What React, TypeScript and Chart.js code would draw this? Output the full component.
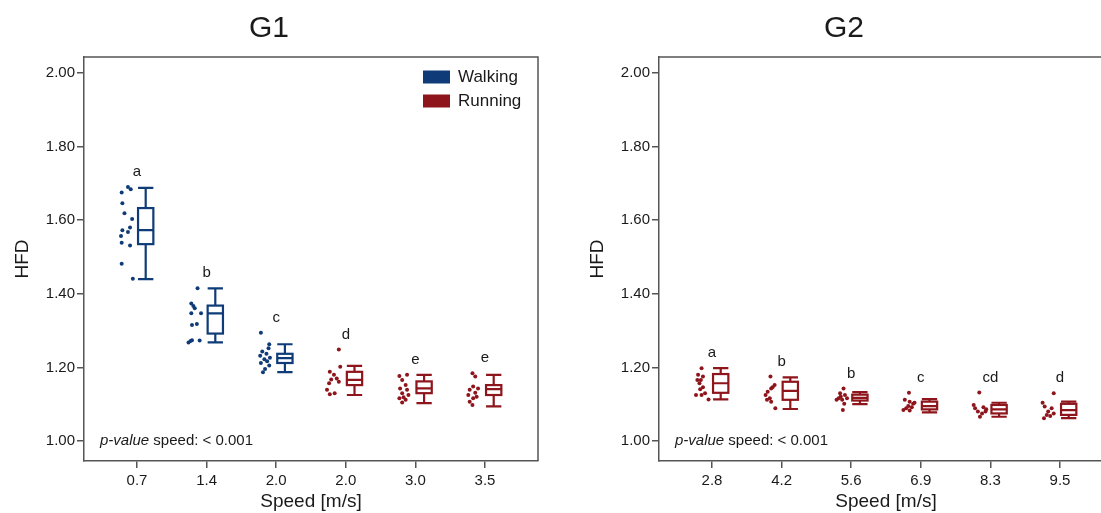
import React, { useEffect, useRef } from "react";
import { Chart, registerables } from "chart.js";
Chart.register(...registerables);

const WALK_COLOR = "#0f3c78";
const RUN_COLOR = "#8e151b";
const FONT = "'Liberation Sans', Arial, Helvetica, sans-serif";

const Y_TICKS = [1.0, 1.2, 1.4, 1.6, 1.8, 2.0];

// ---------- G1 ----------
const G1_SPEEDS = ["0.7", "1.4", "2.0", "2.0", "3.0", "3.5"];
const G1_MODES = ["Walking", "Walking", "Walking", "Running", "Running", "Running"];
const G1_LETTERS = ["a", "b", "c", "d", "e", "e"];
// [lower whisker, Q1, median, Q3, upper whisker]
const G1_BOXES = [
  [1.440, 1.535, 1.573, 1.633, 1.688],
  [1.268, 1.292, 1.347, 1.368, 1.415],
  [1.187, 1.212, 1.225, 1.237, 1.263],
  [1.125, 1.152, 1.166, 1.188, 1.204],
  [1.103, 1.130, 1.143, 1.162, 1.180],
  [1.094, 1.125, 1.141, 1.152, 1.180],
];
const G1_POINTS = [
  [1.675, 1.690, 1.684, 1.646, 1.619, 1.603, 1.573, 1.580, 1.568, 1.557, 1.539, 1.531, 1.482, 1.441],
  [1.415, 1.374, 1.367, 1.361, 1.347, 1.347, 1.315, 1.318, 1.268, 1.274, 1.273, 1.272],
  [1.294, 1.263, 1.252, 1.243, 1.237, 1.232, 1.226, 1.222, 1.217, 1.212, 1.205, 1.196, 1.187],
  [1.249, 1.188, 1.180, 1.202, 1.167, 1.170, 1.161, 1.157, 1.130, 1.127, 1.139],
  [1.177, 1.180, 1.166, 1.152, 1.143, 1.139, 1.130, 1.125, 1.116, 1.112, 1.105, 1.119],
  [1.184, 1.175, 1.148, 1.143, 1.139, 1.131, 1.125, 1.116, 1.107, 1.098, 1.120],
];
// horizontal jitter of each point, in category units (left of the tick)
const G1_JITTER = [
  [-0.22, -0.13, -0.09, -0.21, -0.18, -0.07, -0.21, -0.10, -0.13, -0.23, -0.22, -0.10, -0.22, -0.06],
  [-0.13, -0.22, -0.19, -0.17, -0.22, -0.08, -0.21, -0.14, -0.26, -0.21, -0.10, -0.23],
  [-0.22, -0.10, -0.11, -0.20, -0.14, -0.23, -0.09, -0.17, -0.13, -0.22, -0.10, -0.16, -0.19],
  [-0.10, -0.23, -0.17, -0.08, -0.21, -0.13, -0.10, -0.24, -0.16, -0.23, -0.27],
  [-0.23, -0.12, -0.19, -0.14, -0.22, -0.12, -0.19, -0.10, -0.23, -0.14, -0.19, -0.17],
  [-0.18, -0.14, -0.17, -0.10, -0.22, -0.14, -0.24, -0.17, -0.22, -0.18, -0.12],
];

// ---------- G2 ----------
const G2_SPEEDS = ["2.8", "4.2", "5.6", "6.9", "8.3", "9.5"];
const G2_MODES = ["Running", "Running", "Running", "Running", "Running", "Running"];
const G2_LETTERS = ["a", "b", "b", "c", "cd", "d"];
const G2_BOXES = [
  [1.113, 1.131, 1.157, 1.182, 1.198],
  [1.087, 1.112, 1.136, 1.161, 1.173],
  [1.100, 1.110, 1.117, 1.126, 1.133],
  [1.078, 1.086, 1.095, 1.107, 1.114],
  [1.066, 1.075, 1.086, 1.098, 1.104],
  [1.062, 1.071, 1.084, 1.101, 1.107],
];
const G2_POINTS = [
  [1.198, 1.180, 1.166, 1.157, 1.146, 1.141, 1.125, 1.125, 1.113, 1.130, 1.166, 1.175],
  [1.175, 1.152, 1.143, 1.134, 1.125, 1.116, 1.107, 1.089, 1.146, 1.112],
  [1.143, 1.130, 1.125, 1.116, 1.112, 1.101, 1.084, 1.116, 1.112, 1.121],
  [1.131, 1.112, 1.107, 1.101, 1.095, 1.084, 1.089, 1.092, 1.104, 1.083],
  [1.132, 1.098, 1.089, 1.080, 1.066, 1.092, 1.080, 1.075, 1.086],
  [1.130, 1.104, 1.094, 1.089, 1.080, 1.071, 1.062, 1.075, 1.068],
];
const G2_JITTER = [
  [-0.15, -0.20, -0.16, -0.18, -0.13, -0.17, -0.23, -0.15, -0.05, -0.10, -0.21, -0.13],
  [-0.16, -0.10, -0.15, -0.20, -0.23, -0.17, -0.15, -0.09, -0.13, -0.21],
  [-0.11, -0.16, -0.09, -0.18, -0.13, -0.10, -0.12, -0.06, -0.21, -0.15],
  [-0.17, -0.23, -0.16, -0.11, -0.18, -0.25, -0.21, -0.13, -0.09, -0.16],
  [-0.16, -0.24, -0.22, -0.18, -0.15, -0.10, -0.07, -0.12, -0.06],
  [-0.09, -0.25, -0.22, -0.12, -0.17, -0.19, -0.23, -0.09, -0.14],
];

const LEGEND_ITEMS = [
  { label: "Walking", color: WALK_COLOR },
  { label: "Running", color: RUN_COLOR },
];

const BOX_START = 0.015;
const BOX_END = 0.235;
const AXIS_COLOR = "#555555";
const TEXT_COLOR = "#1a1a1a";

const colorOf = (m: string) => (m === "Walking" ? WALK_COLOR : RUN_COLOR);

type PanelProps = {
  title: string;
  speeds: string[];
  modes: string[];
  letters: string[];
  boxes: number[][];
  points: number[][];
  jitter: number[][];
  legend: boolean;
  left: number;
};

function Panel(props: PanelProps) {
  const ref = useRef<HTMLCanvasElement | null>(null);
  useEffect(() => {
    const { title, speeds, modes, letters, boxes, points, jitter, legend } = props;
    const datasets = points.map((vals, i) => ({
      type: "scatter" as const,
      label: speeds[i],
      data: vals.map((v, j) => ({ x: i + jitter[i][j], y: v })),
      backgroundColor: colorOf(modes[i]),
      borderColor: colorOf(modes[i]),
      pointRadius: 2,
      pointBorderWidth: 0,
    }));

    const drawPlugin = {
      id: "boxDecor",
      afterDatasetsDraw(chart: any) {
        const { ctx, chartArea, scales } = chart;
        const xs = scales.x;
        const ys = scales.y;
        ctx.save();
        // frame top & right
        ctx.strokeStyle = AXIS_COLOR;
        ctx.lineWidth = 1.5;
        ctx.beginPath();
        ctx.moveTo(chartArea.left, chartArea.top);
        ctx.lineTo(chartArea.right, chartArea.top);
        ctx.lineTo(chartArea.right, chartArea.bottom);
        ctx.stroke();

        // boxes
        boxes.forEach((b, i) => {
          const c = colorOf(modes[i]);
          const x0 = xs.getPixelForValue(i + BOX_START);
          const x1 = xs.getPixelForValue(i + BOX_END);
          const xm = (x0 + x1) / 2;
          const [lo, q1, med, q3, hi] = b.map((v) => ys.getPixelForValue(v));
          ctx.strokeStyle = c;
          ctx.lineWidth = 2.2;
          ctx.beginPath();
          ctx.moveTo(xm, lo); ctx.lineTo(xm, q1);
          ctx.moveTo(xm, q3); ctx.lineTo(xm, hi);
          ctx.moveTo(x0, lo); ctx.lineTo(x1, lo);
          ctx.moveTo(x0, hi); ctx.lineTo(x1, hi);
          ctx.moveTo(x0, med); ctx.lineTo(x1, med);
          ctx.stroke();
          ctx.strokeRect(x0, q3, x1 - x0, q1 - q3);
        });

        // letters
        ctx.fillStyle = TEXT_COLOR;
        ctx.font = `15px ${FONT}`;
        ctx.textAlign = "center";
        ctx.textBaseline = "middle";
        letters.forEach((l, i) => {
          const top = Math.max(...points[i], boxes[i][4]);
          ctx.fillText(l, xs.getPixelForValue(i), ys.getPixelForValue(top) - 15);
        });

        // p-value text
        const py = ys.getPixelForValue(1.0);
        ctx.textAlign = "left";
        ctx.font = `italic 15px ${FONT}`;
        const px = chartArea.left + 16;
        ctx.fillText("p-value", px, py);
        const w = ctx.measureText("p-value").width;
        ctx.font = `15px ${FONT}`;
        ctx.fillText(" speed: < 0.001", px + w, py);

        // legend
        if (legend) {
          LEGEND_ITEMS.forEach((it, k) => {
            const cy = chartArea.top + 20 + k * 24;
            ctx.fillStyle = it.color;
            ctx.fillRect(chartArea.right - 115, cy - 6.5, 27, 13);
            ctx.fillStyle = TEXT_COLOR;
            ctx.font = `17px ${FONT}`;
            ctx.textBaseline = "middle";
            ctx.fillText(it.label, chartArea.right - 80, cy);
          });
        }
        ctx.restore();
      },
    };

    const chart = new Chart(ref.current as HTMLCanvasElement, {
      type: "scatter",
      data: { datasets },
      options: {
        responsive: false,
        animation: false,
        devicePixelRatio: 1,
        layout: { padding: { left: 0, right: 22, top: 0, bottom: 0 } },
        plugins: {
          legend: { display: false },
          tooltip: { enabled: false },
          title: {
            display: true,
            text: title,
            color: TEXT_COLOR,
            font: { family: FONT, size: 30, weight: "normal" },
            padding: { top: 11, bottom: 10 },
          },
        },
        scales: {
          x: {
            type: "linear",
            min: -0.7615,
            max: 5.7615,
            afterBuildTicks: (s: any) => {
              s.ticks = speeds.map((_, i) => ({ value: i }));
            },
            afterFit: (s: any) => {
              s.height = 52;
            },
            ticks: {
              callback: (v: any) => speeds[Math.round(Number(v))] ?? "",
              color: TEXT_COLOR,
              font: { family: FONT, size: 15 },
              padding: 4,
              maxRotation: 0,
              autoSkip: false,
            },
            grid: { drawOnChartArea: false, drawTicks: true, tickLength: 7, color: AXIS_COLOR, lineWidth: 1.5 },
            border: { display: true, color: AXIS_COLOR, width: 1.5 },
            title: {
              display: true,
              text: "Speed [m/s]",
              color: TEXT_COLOR,
              font: { family: FONT, size: 19 },
              padding: { top: 0, bottom: 0 },
            },
          },
          y: {
            type: "linear",
            min: 0.9457,
            max: 2.0435,
            afterBuildTicks: (s: any) => {
              s.ticks = Y_TICKS.map((v) => ({ value: v }));
            },
            afterFit: (s: any) => {
              s.width = 84;
            },
            ticks: {
              callback: (v: any) => Number(v).toFixed(2),
              color: TEXT_COLOR,
              font: { family: FONT, size: 15 },
              padding: 2,
              autoSkip: false,
            },
            grid: { drawOnChartArea: false, drawTicks: true, tickLength: 7, color: AXIS_COLOR, lineWidth: 1.5 },
            border: { display: true, color: AXIS_COLOR, width: 1.5 },
            title: {
              display: true,
              text: "HFD",
              color: TEXT_COLOR,
              font: { family: FONT, size: 19 },
              padding: { top: 11, bottom: 0 },
            },
          },
        },
      } as any,
      plugins: [drawPlugin],
    });
    return () => chart.destroy();
  }, []);
  return (
    <canvas
      ref={ref}
      width={560}
      height={513}
      style={{ position: "absolute", left: props.left, top: 0, width: 560, height: 513 }}
    />
  );
}

export default function App() {
  return (
    <div
      style={{
        position: "fixed",
        left: 0,
        top: 0,
        width: 1101,
        height: 513,
        overflow: "hidden",
        background: "#ffffff",
      }}
    >
      <Panel
        title="G1"
        speeds={G1_SPEEDS}
        modes={G1_MODES}
        letters={G1_LETTERS}
        boxes={G1_BOXES}
        points={G1_POINTS}
        jitter={G1_JITTER}
        legend={true}
        left={0}
      />
      <Panel
        title="G2"
        speeds={G2_SPEEDS}
        modes={G2_MODES}
        letters={G2_LETTERS}
        boxes={G2_BOXES}
        points={G2_POINTS}
        jitter={G2_JITTER}
        legend={false}
        left={575}
      />
    </div>
  );
}
